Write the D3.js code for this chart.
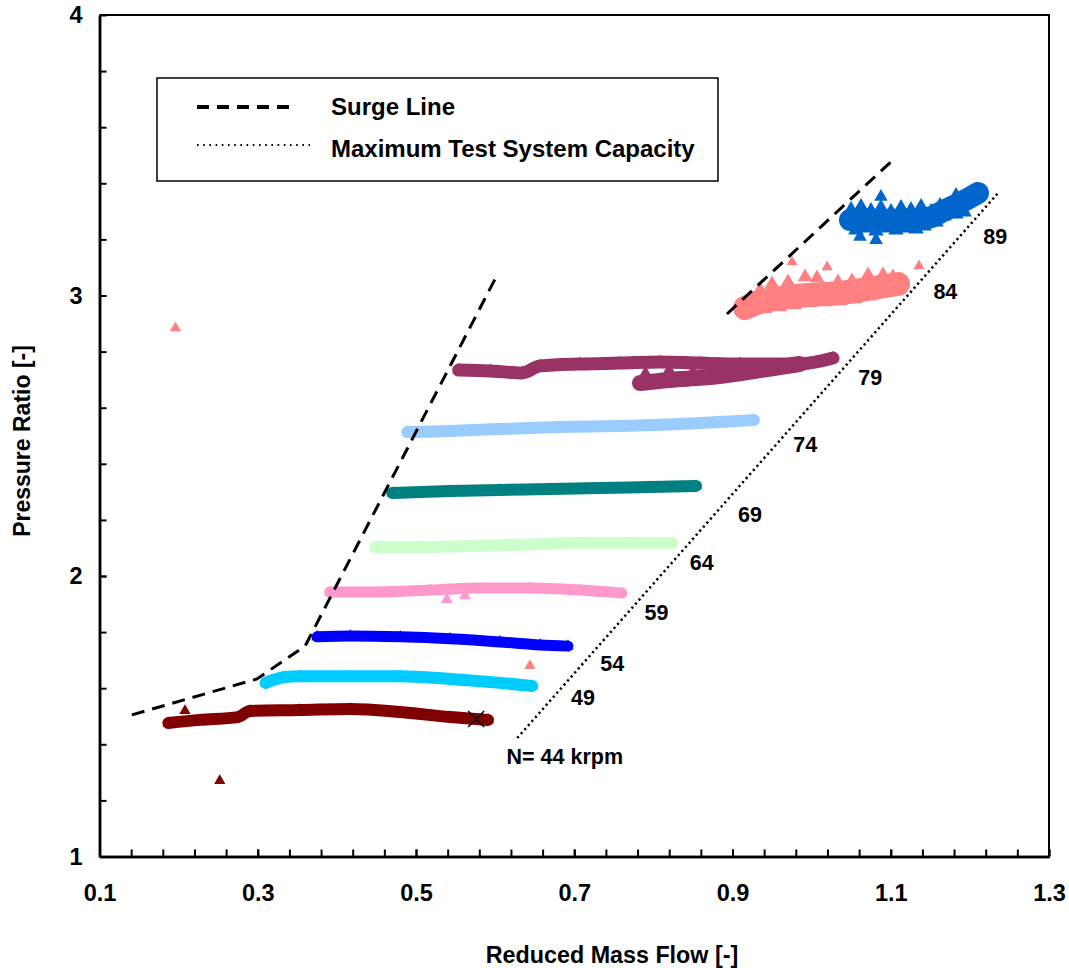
<!DOCTYPE html>
<html><head><meta charset="utf-8">
<script src="https://cdn.jsdelivr.net/npm/d3@7"></script>
<style>
body{margin:0;background:#fff}
svg text{font-family:"Liberation Sans",Arial,sans-serif;font-weight:bold;fill:#000}
</style>
</head><body>
<svg id="chart" width="1069" height="968"></svg>
<script>
// ---------------- data ----------------
const xMajorTicks = [0.1, 0.3, 0.5, 0.7, 0.9, 1.1, 1.3];
const yMajorTicks = [1, 2, 3, 4];
const xTitle = "Reduced Mass Flow [-]";
const yTitle = "Pressure Ratio [-]";
const legendLabels = ["Surge Line", "Maximum Test System Capacity"];

const speed44 = [[0.187,1.476],[0.227,1.487],[0.275,1.497],[0.290,1.519],[0.353,1.522],[0.417,1.526],[0.480,1.515],[0.543,1.497],[0.591,1.487]];
const speed49 = [[0.310,1.619],[0.334,1.640],[0.353,1.643],[0.417,1.643],[0.480,1.643],[0.543,1.633],[0.606,1.619],[0.647,1.608]];
const speed54 = [[0.375,1.783],[0.417,1.786],[0.480,1.783],[0.543,1.776],[0.606,1.765],[0.657,1.754],[0.692,1.750]];
const speed59 = [[0.391,1.943],[0.455,1.943],[0.518,1.950],[0.539,1.916],[0.562,1.929],[0.581,1.957],[0.644,1.957],[0.707,1.950],[0.760,1.939]];
const speed64 = [[0.448,2.103],[0.505,2.103],[0.568,2.107],[0.631,2.111],[0.704,2.118],[0.771,2.118],[0.824,2.118]];
const speed69 = [[0.470,2.296],[0.543,2.303],[0.606,2.307],[0.669,2.310],[0.733,2.314],[0.796,2.317],[0.854,2.321]];
const speed74 = [[0.489,2.513],[0.543,2.517],[0.606,2.524],[0.682,2.531],[0.758,2.535],[0.834,2.542],[0.884,2.549],[0.927,2.556]];
const speed79 = [[0.554,2.734],[0.594,2.731],[0.634,2.724],[0.657,2.749],[0.707,2.756],[0.758,2.759],[0.808,2.763],[0.859,2.759],[0.910,2.756],[0.985,2.756],[1.027,2.777]];
const speed79Low = [[0.783,2.688],[0.834,2.702],[0.884,2.713],[0.935,2.734],[0.985,2.756]];
const speed79Mid = [[0.790,2.720],[0.820,2.731],[0.850,2.724],[0.880,2.738],[0.910,2.735],[0.950,2.745]];
const speed84 = [[0.9158,2.9554],[0.9348,2.9768],[0.9601,2.9911],[0.9942,3.0018],[1.0359,3.0089],[1.0776,3.0267],[1.1092,3.0410]];
const speed84Top = [[0.9348,3.0196],[0.9499,3.0410],[0.9702,3.0481],[0.9917,3.0660],[1.0068,3.0624],[1.0333,3.0481],[1.0510,3.0517],[1.0713,3.0731],[1.0902,3.0731],[1.1029,3.0660]];
const speed84Low = [[0.9221,2.9447],[0.9411,2.9519],[0.9601,2.9590],[0.9790,2.9661],[0.9980,2.9733],[1.0169,2.9768],[1.0359,2.9804],[1.0548,2.9875],[1.0738,2.9982],[1.0928,3.0125]];
const speed89Core = [[1.0485,3.2692],[1.0991,3.2692],[1.1458,3.2763],[1.1686,3.3048],[1.1875,3.3298],[1.2103,3.3654]];
const speed89 = [
  [1.0498,3.3048],[1.0624,3.3155],[1.0750,3.3012],[1.0876,3.3119],[1.1003,3.2977],[1.1130,3.3119],[1.1256,3.3048],[1.1383,3.3155],[1.1509,3.2977],
  [1.0460,3.2692],[1.0586,3.2692],[1.0713,3.2763],[1.0839,3.2620],[1.0965,3.2763],[1.1092,3.2620],[1.1219,3.2763],[1.1345,3.2692],[1.1471,3.2763],
  [1.0561,3.2335],[1.0687,3.2406],[1.0814,3.2299],[1.0940,3.2406],[1.1066,3.2335],[1.1193,3.2406],[1.1320,3.2371],[1.1420,3.2478],
  [1.1572,3.2620],[1.1622,3.3191],[1.1673,3.2834],[1.1724,3.3048],[1.1774,3.3262],[1.1825,3.3547],[1.1825,3.2906],[1.1875,3.3191],
  [1.1926,3.3476],[1.1976,3.3547],[1.2027,3.3619],[1.2077,3.3547],[1.2128,3.3690],[1.1926,3.2977]
];

const outliers44 = [[0.208,1.52],[0.252,1.27]];
const outliers84 = [[0.196,2.884],[0.644,1.68],[0.9752,3.1194],[1.0196,3.1016],[1.1357,3.1052]];
const outliers89 = [[1.0876,3.352],[1.0611,3.209],[1.0814,3.198]];
const crossPoint = [[0.576,1.49]];

const surgeLow = [[0.141,1.505],[0.299,1.633],[0.360,1.751],[0.602,3.070]];
const surgeHigh = [[0.893,2.934],[1.100,3.476]];
const capacityLine = [[0.628,1.4225],[1.2355,3.365]];

const speedLabels = ["N= 44 krpm","49","54","59","64","69","74","79","84","89"];
const speedLabelX = [0.688,0.711,0.748,0.804,0.861,0.922,0.992,1.074,1.169,1.232];
const speedLabelY = [1.355,1.565,1.686,1.868,2.046,2.218,2.467,2.706,3.012,3.210];

// ---------------- drawing ----------------
const svg = d3.select("#chart");
const x = d3.scaleLinear().domain([0.1, 1.3]).range([99.5, 1049]);
const y = d3.scaleLinear().domain([1, 4]).range([856.5, 15]);

const line = d3.line().x(d => x(d[0])).y(d => y(d[1]));
const bandLine = d3.line().x(d => x(d[0])).y(d => y(d[1])).curve(d3.curveMonotoneX);

const bands = [
  {pts: speed44, color: "#800000", w: 12, s: 60},
  {pts: speed49, color: "#00CCFF", w: 12, s: 60},
  {pts: speed54, color: "#0000FF", w: 11, s: 60},
  {pts: speed59, color: "#FF99CC", w: 11, s: 60, noLine: true},
  {pts: speed64, color: "#CCFFCC", w: 12, s: 60},
  {pts: speed69, color: "#008080", w: 12, s: 60},
  {pts: speed74, color: "#99CCFF", w: 12, s: 60},
  {pts: speed79, color: "#993366", w: 13, s: 70},
  {pts: speed79Low, color: "#993366", w: 16, s: 70},
  {pts: speed79Mid, color: "#993366", w: 0, s: 90},
  {pts: speed84, color: "#FF8080", w: 24, s: 90},
  {pts: speed84Top, color: "#FF8080", w: 0, s: 95},
  {pts: speed84Low, color: "#FF8080", w: 0, s: 95},
  {pts: speed89Core, color: "#0066CC", w: 22, s: 0},
  {pts: speed89, color: "#0066CC", w: 0, s: 105}
];

const gData = svg.append("g");
bands.forEach(b => {
  if (b.w > 0) {
    const linePts = b.noLine ? b.pts.filter(p => p[1] > 1.935) : b.pts;
    gData.append("path").attr("d", bandLine(linePts)).attr("fill", "none")
      .attr("stroke", b.color).attr("stroke-width", b.w)
      .attr("stroke-linecap", "round").attr("stroke-linejoin", "round");
  }
  if (b.s > 0) {
    gData.selectAll(null).data(b.pts).enter().append("path")
      .attr("d", d3.symbol().type(d3.symbolTriangle).size(b.s)())
      .attr("transform", d => `translate(${x(d[0])},${y(d[1])})`)
      .attr("fill", b.color);
  }
});

[[outliers44, "#800000", 55], [outliers84, "#FF8080", 55], [outliers89, "#0066CC", 80]].forEach(([pts, c, s]) => {
  gData.selectAll(null).data(pts).enter().append("path")
    .attr("d", d3.symbol().type(d3.symbolTriangle).size(s)())
    .attr("transform", d => `translate(${x(d[0])},${y(d[1])})`)
    .attr("fill", c);
});

gData.selectAll(null).data(crossPoint).enter().append("path")
  .attr("d", d3.symbol().type(d3.symbolX).size(170)())
  .attr("transform", d => `translate(${x(d[0])},${y(d[1])})`)
  .attr("fill", "none").attr("stroke", "#000").attr("stroke-width", 1.5);

// reference lines
[surgeLow, surgeHigh].forEach(p => {
  svg.append("path").attr("d", line(p)).attr("fill", "none")
    .attr("stroke", "#000").attr("stroke-width", 3).attr("stroke-dasharray", "13 8");
});
svg.append("path").attr("d", line(capacityLine)).attr("fill", "none")
  .attr("stroke", "#000").attr("stroke-width", 2.5).attr("stroke-dasharray", "2.2 3.2");

// speed labels
svg.append("g").selectAll("text").data(speedLabels).enter().append("text")
  .attr("x", (d, i) => x(speedLabelX[i])).attr("y", (d, i) => y(speedLabelY[i]))
  .attr("text-anchor", "middle").attr("dominant-baseline", "central")
  .style("font-size", "21.5px").text(d => d);

// axes
const fmtX = d3.format(".1f");
const gx = svg.append("g").attr("transform", `translate(0,${y(1)})`)
  .call(d3.axisBottom(x).tickValues(xMajorTicks).tickFormat(fmtX).tickSizeInner(-7).tickSizeOuter(0).tickPadding(28));
const gxMinor = svg.append("g").attr("transform", `translate(0,${y(1)})`)
  .call(d3.axisBottom(x).tickValues(d3.range(0.14, 1.3, 0.04)).tickFormat("").tickSizeInner(-7).tickSizeOuter(0));
const gy = svg.append("g").attr("transform", `translate(${x(0.1)},0)`)
  .call(d3.axisLeft(y).tickValues(yMajorTicks).tickFormat(d3.format("d")).tickSizeInner(-7).tickSizeOuter(0).tickPadding(17));
const gyMinor = svg.append("g").attr("transform", `translate(${x(0.1)},0)`)
  .call(d3.axisLeft(y).tickValues(d3.range(1.2, 4, 0.2)).tickFormat("").tickSizeInner(-7).tickSizeOuter(0));

[gx, gxMinor, gy, gyMinor].forEach(g => {
  g.select(".domain").attr("stroke", "#000").attr("stroke-width", 2.5);
  g.selectAll(".tick line").attr("stroke", "#000").attr("stroke-width", 2);
  g.selectAll(".tick text").style("font-size", "23.5px")
    .style("font-family", '"Liberation Sans",Arial,sans-serif').style("font-weight", "bold").attr("fill", "#000");
});

// frame top & right
svg.append("path")
  .attr("d", `M${x(0.1)},${y(4)}H${x(1.3)}V${y(1)}`)
  .attr("fill", "none").attr("stroke", "#000").attr("stroke-width", 2);

// axis titles
svg.append("text").attr("x", 612).attr("y", 955).attr("text-anchor", "middle")
  .attr("dominant-baseline", "central").style("font-size", "23.3px").text(xTitle);
svg.append("text").attr("transform", "translate(22,441) rotate(-90)").attr("text-anchor", "middle")
  .attr("dominant-baseline", "central").style("font-size", "23px").text(yTitle);

// legend
const lg = svg.append("g");
lg.append("rect").attr("x", 157).attr("y", 78).attr("width", 561).attr("height", 103)
  .attr("fill", "#fff").attr("stroke", "#000").attr("stroke-width", 1.5);
lg.append("line").attr("x1", 197).attr("x2", 292).attr("y1", 107).attr("y2", 107)
  .attr("stroke", "#000").attr("stroke-width", 4).attr("stroke-dasharray", "12 8");
lg.append("line").attr("x1", 197).attr("x2", 310).attr("y1", 145).attr("y2", 145)
  .attr("stroke", "#000").attr("stroke-width", 1.8).attr("stroke-dasharray", "1.6 4.6");
lg.selectAll("text.lab").data(legendLabels).enter().append("text")
  .attr("x", 331).attr("y", (d, i) => i === 0 ? 106 : 148)
  .attr("dominant-baseline", "central").style("font-size", "24px").text(d => d);
</script>
</body></html>
